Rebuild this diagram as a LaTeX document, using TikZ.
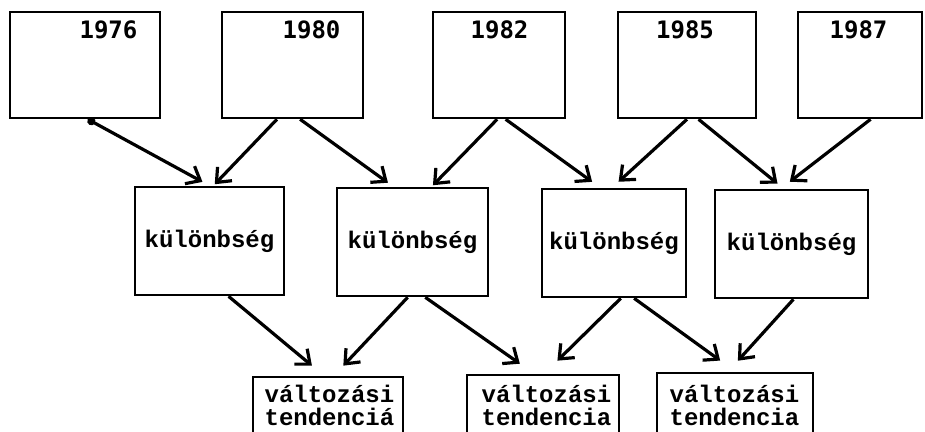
\documentclass[tikz,border=0pt]{standalone}
\usepackage{fontspec}
\setmainfont{Liberation Mono}
\newfontfamily\yearfont{DejaVu Sans Mono}
\usetikzlibrary{arrows.meta}
\begin{document}
\begin{tikzpicture}[x=0.5pt,y=-0.5pt,line width=1.6pt,>={Straight Barb[length=6pt,width=10pt]},
  yearbox/.style={draw,line width=1.3pt,inner sep=0pt,minimum height=53pt},
  diffbox/.style={draw,line width=1.3pt,inner sep=0pt,minimum height=54pt,font=\fontsize{12}{12}\selectfont\bfseries},
  tendbox/.style={draw,line width=1.3pt,inner sep=0pt,minimum height=32pt},
  yeartext/.style={inner sep=0pt,font=\fontsize{12}{12}\yearfont\bfseries},
  tendtext/.style={inner sep=0pt,align=left,anchor=base west,font=\fontsize{12}{11.5}\selectfont\bfseries}]

    \useasboundingbox (0,0) rectangle (925,432);

    %year boxes
    \node (Y1976) at (85,65)[yearbox,minimum width=75pt]{};
    \node (Y1980) at (292.5,65)[yearbox,minimum width=70.5pt]{};
    \node (Y1982) at (499,65)[yearbox,minimum width=66pt]{};
    \node (Y1985) at (687,65)[yearbox,minimum width=69pt]{};
    \node (Y1987) at (860,65)[yearbox,minimum width=62pt]{};

    %years
    \node (L1976) at (108.5,30)[yeartext]{1976};
    \node (L1980) at (311.5,30)[yeartext]{1980};
    \node (L1982) at (499.5,30)[yeartext]{1982};
    \node (L1985) at (685,30)[yeartext]{1985};
    \node (L1987) at (858.5,30)[yeartext]{1987};

    %difference boxes
    \node (B1) at (209.5,241)[diffbox,minimum width=74.5pt]{különbség};
    \node (B2) at (412.5,242)[diffbox,minimum width=75.5pt]{különbség};
    \node (B3) at (614,243)[diffbox,minimum width=72pt]{különbség};
    \node (B4) at (791.5,244)[diffbox,minimum width=76.5pt]{különbség};

    %tendency boxes
    \node (T1) at (328,409)[tendbox,minimum width=75pt]{};
    \node (T2) at (543,407)[tendbox,minimum width=76pt]{};
    \node (T3) at (735,405)[tendbox,minimum width=78pt]{};
    \node (T1t) at (263,425)[tendtext]{változási\\tendenciá};
    \node (T2t) at (480,425)[tendtext]{változási\\tendencia};
    \node (T3t) at (668,425)[tendtext]{változási\\tendencia};

    %years to differences
    \draw [{Circle[length=4pt]}->,shorten >=4pt] (Y1976.-87) to (B1.90);
    \draw [->,shorten >=1pt] (Y1980.-106) to (B1.86);
    \draw [->,shorten >=3.4pt] (Y1980.-82) to (B2.109);
    \draw [->,shorten >=1pt] (Y1982.-92) to (B2.71);
    \draw [->,shorten >=5pt] (Y1982.-83.5) to (B3.104);
    \draw [->,shorten >=4.4pt] (Y1985.-90) to (B3.92.7);
    \draw [->,shorten >=4pt] (Y1985.-78) to (B4.98.6);
    \draw [->,shorten >=5.7pt] (Y1987.-79) to (B4.101);

    %differences to tendencies
    \draw [->,shorten >=7.8pt] (B1.-71) to (T1.97);
    \draw [->,shorten >=6.9pt] (B2.-95) to (T1.80);
    \draw [->,shorten >=8.7pt] (B2.-77) to (T2.105.4);
    \draw [->,shorten >=9.3pt] (B3.-83.7) to (T2.88.6);
    \draw [->,shorten >=9.5pt] (B3.-70.6) to (T3.89.3);
    \draw [->,shorten >=7.4pt] (B4.-88.4) to (T3.102.2);
  \end{tikzpicture}
\end{document}
